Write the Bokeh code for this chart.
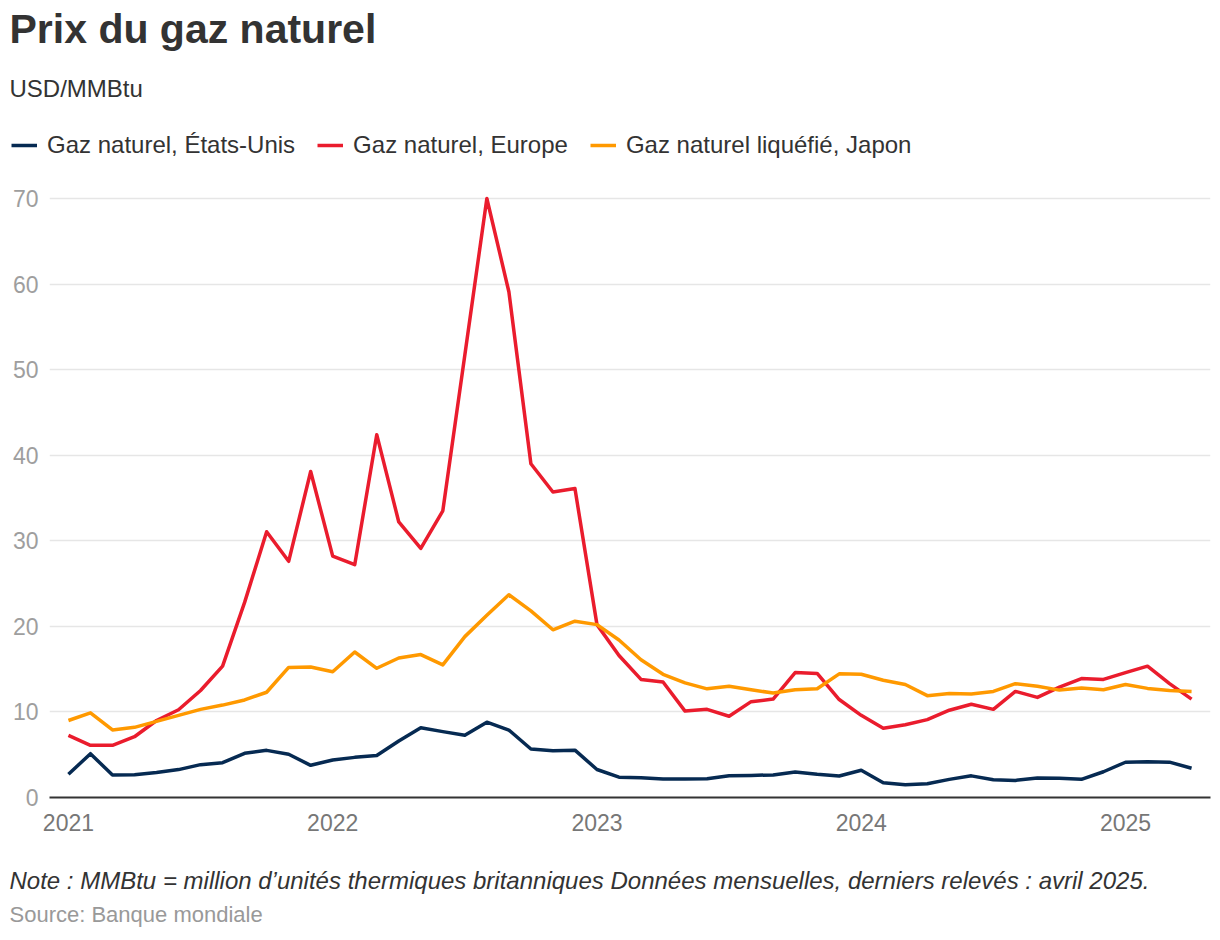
from bokeh.plotting import figure
from bokeh.layouts import column
from bokeh.models import Range1d, FixedTicker, Legend, LegendItem, Label
from bokeh.embed import file_html
from bokeh.resources import INLINE

# Monthly prices, Jan 2021 .. Apr 2025 (USD/MMBtu)
us = [2.71, 5.12, 2.62, 2.66, 2.91, 3.26, 3.84, 4.07, 5.16, 5.51, 5.05, 3.76,
      4.38, 4.69, 4.90, 6.60, 8.14, 7.70, 7.28, 8.80, 7.88, 5.67, 5.45, 5.53,
      3.27, 2.38, 2.31, 2.16, 2.15, 2.18, 2.55, 2.58, 2.64, 2.98, 2.71, 2.52,
      3.18, 1.72, 1.49, 1.60, 2.12, 2.53, 2.08, 2.00, 2.28, 2.25, 2.12, 3.01,
      4.12, 4.19, 4.13, 3.42]
europe = [7.25, 6.10, 6.10, 7.10, 9.00, 10.25, 12.50, 15.35, 22.80, 31.05, 27.60, 38.10,
          28.20, 27.20, 42.40, 32.20, 29.10, 33.50, 51.70, 70.00, 59.10, 39.00, 35.70, 36.10,
          20.20, 16.60, 13.80, 13.50, 10.10, 10.30, 9.50, 11.20, 11.50, 14.60, 14.50, 11.45,
          9.60, 8.10, 8.50, 9.10, 10.20, 10.90, 10.30, 12.40, 11.70, 12.90, 13.90, 13.80,
          14.60, 15.35, 13.30, 11.50]
japan = [9.00, 9.90, 7.90, 8.20, 8.90, 9.60, 10.30, 10.80, 11.40, 12.30, 15.20, 15.25,
         14.70, 17.00, 15.10, 16.30, 16.70, 15.50, 18.80, 21.30, 23.70, 21.80, 19.60, 20.60,
         20.20, 18.40, 16.10, 14.40, 13.40, 12.70, 13.00, 12.60, 12.20, 12.60, 12.70, 14.45,
         14.40, 13.70, 13.20, 11.90, 12.15, 12.10, 12.40, 13.30, 13.00, 12.55, 12.80, 12.60,
         13.20, 12.75, 12.50, 12.40]
months = list(range(len(us)))

year_ticks = [0, 12, 24, 36, 48]
year_labels = ["2021", "2022", "2023", "2024", "2025"]
y_ticks = [0, 10, 20, 30, 40, 50, 60, 70]

series = [us, europe, japan]
series_names = ["Gaz naturel, États-Unis", "Gaz naturel, Europe", "Gaz naturel liquéfié, Japon"]
series_colors = ["#062a52", "#ea1c2d", "#ff9900"]

title_text = "Prix du gaz naturel"
subtitle_text = "USD/MMBtu"
note_text = "Note : MMBtu = million d\u2019unités thermiques britanniques Données mensuelles, derniers relevés : avril 2025."
source_text = "Source: Banque mondiale"

FONT = "Liberation Sans"
W = 1212
LW = 3.5


def bare(height):
    f = figure(width=W, height=height, output_backend="svg", toolbar_location=None,
               x_axis_type=None, y_axis_type=None,
               x_range=Range1d(0, 1), y_range=Range1d(-1000, -999),
               min_border_left=0, min_border_right=0, min_border_top=0, min_border_bottom=0,
               frame_align=False)
    f.outline_line_color = None
    f.xgrid.grid_line_color = None
    f.ygrid.grid_line_color = None
    return f


def add_text(f, txt, x, y, size, color, style="normal"):
    f.add_layout(Label(x=x, y=y, x_units="screen", y_units="screen", text=txt,
                       text_font=FONT, text_font_size=size, text_color=color,
                       text_font_style=style, text_baseline="alphabetic", text_align="left"))


# ---------- header: title, subtitle, legend ----------
header = bare(170)
add_text(header, title_text, 9, 142, "41px", "#333333", "bold")
add_text(header, subtitle_text, 9, 82, "24px", "#333333")
leg_renderers = []
for data, color in zip(series, series_colors):
    leg_renderers.append(header.line(months, data, line_color=color, line_width=LW))
legend = Legend(items=[LegendItem(label=n, renderers=[r]) for n, r in zip(series_names, leg_renderers)],
                orientation="horizontal", location=(11, 11),
                label_text_font=FONT, label_text_font_size="24px", label_text_color="#333333",
                glyph_width=26, glyph_height=28, label_height=28, label_standoff=10, spacing=22,
                padding=0, margin=0, border_line_color=None, background_fill_alpha=0)
header.add_layout(legend, "center")

# ---------- main chart ----------
p = figure(width=W, height=667, output_backend="svg", toolbar_location=None,
           x_range=Range1d(-0.86, 51.86), y_range=Range1d(0, 71.05),
           min_border_left=49, min_border_right=2, min_border_top=19, min_border_bottom=40,
           frame_align=False)
p.outline_line_color = None

for data, color in zip(series, series_colors):
    p.line(months, data, line_color=color, line_width=LW, line_join="round")

p.xaxis.ticker = FixedTicker(ticks=year_ticks)
p.xaxis.major_label_overrides = {t: l for t, l in zip(year_ticks, year_labels)}
p.xaxis.axis_line_color = "#333333"
p.xaxis.axis_line_width = 2
p.xaxis.major_tick_line_color = None
p.xaxis.minor_tick_line_color = None
p.xaxis.major_label_standoff = 10
p.xaxis.major_label_text_font = FONT
p.xaxis.major_label_text_font_size = "23px"
p.xaxis.major_label_text_color = "#777777"

p.yaxis.ticker = FixedTicker(ticks=y_ticks)
p.yaxis.axis_line_color = None
p.yaxis.major_tick_line_color = None
p.yaxis.minor_tick_line_color = None
p.yaxis.major_label_standoff = 5
p.yaxis.major_label_text_font = FONT
p.yaxis.major_label_text_font_size = "23px"
p.yaxis.major_label_text_color = "#9e9e9e"

p.xgrid.grid_line_color = None
p.ygrid.grid_line_color = "#e6e6e6"
p.ygrid.grid_line_width = 1.5

# ---------- footer: note and source ----------
footer = bare(95)
add_text(footer, note_text, 9, 52, "24px", "#333333", "italic")
add_text(footer, source_text, 9, 18, "22px", "#999999")

page = column(header, p, footer, spacing=0)
open("out.html", "w").write(file_html(page, INLINE))
